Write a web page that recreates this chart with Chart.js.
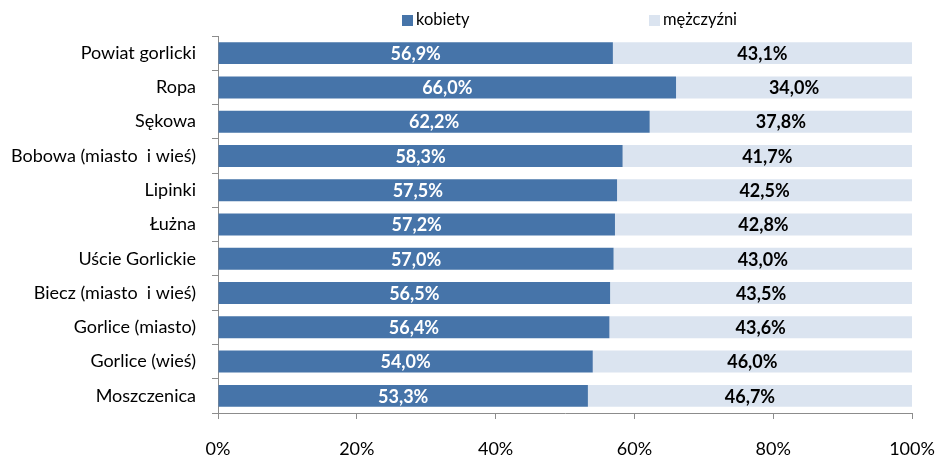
<!DOCTYPE html>
<html>
<head>
<meta charset="utf-8">
<script src="https://cdn.jsdelivr.net/npm/chart.js@4"></script>
<style>
  body { margin: 0; background: #fff; }
  canvas { display: block; }
</style>
</head>
<body>
<canvas id="chart" width="938" height="459"></canvas>
<script>
const categories = ["Powiat gorlicki", "Ropa", "Sękowa", "Bobowa (miasto  i wieś)", "Lipinki", "Łużna",
  "Uście Gorlickie", "Biecz (miasto  i wieś)", "Gorlice (miasto)", "Gorlice (wieś)", "Moszczenica"];
const kobiety = [56.9, 66.0, 62.2, 58.3, 57.5, 57.2, 57.0, 56.5, 56.4, 54.0, 53.3];
const mezczyzni = [43.1, 34.0, 37.8, 41.7, 42.5, 42.8, 43.0, 43.5, 43.6, 46.0, 46.7];
const xTicks = [0, 20, 40, 60, 80, 100];

const FONT = "Lato";
const DARK = "#4674A9";
const LIGHT = "#DBE4F0";
const AXIS = "#8C8C8C";

// value labels inside bars
const barLabels = {
  id: "barLabels",
  afterDatasetsDraw(chart) {
    const ctx = chart.ctx;
    ctx.save();
    ctx.font = "bold 18px " + FONT;
    ctx.textAlign = "center";
    ctx.textBaseline = "middle";
    chart.data.datasets.forEach((ds, i) => {
      chart.getDatasetMeta(i).data.forEach((bar, j) => {
        const x = (bar.x + bar.base) / 2;
        ctx.fillStyle = i === 0 ? "#ffffff" : "#000000";
        ctx.fillText(ds.data[j].toFixed(1).replace(".", ",") + "%", x, bar.y + 1);
      });
    });
    ctx.restore();
  }
};

// legend drawn like the Excel one
const topLegend = {
  id: "topLegend",
  afterDraw(chart) {
    const ctx = chart.ctx;
    const spots = [402, 649];
    ctx.save();
    ctx.font = "16.5px " + FONT;
    ctx.textBaseline = "middle";
    chart.data.datasets.forEach((ds, i) => {
      ctx.fillStyle = ds.backgroundColor;
      ctx.fillRect(spots[i], 15, 11, 11);
      ctx.fillStyle = "#000";
      ctx.fillText(ds.label, spots[i] + 14, 20);
    });
    ctx.restore();
  }
};

new Chart(document.getElementById("chart"), {
  type: "bar",
  data: {
    labels: categories,
    datasets: [
      { label: "kobiety", data: kobiety, backgroundColor: DARK },
      { label: "mężczyźni", data: mezczyzni, backgroundColor: LIGHT }
    ]
  },
  options: {
    indexAxis: "y",
    responsive: false,
    animation: false,
    devicePixelRatio: 1,
    layout: { padding: { top: 36, right: 26, left: 0, bottom: 0 } },
    datasets: { bar: { categoryPercentage: 1, barPercentage: 0.64 } },
    plugins: { legend: { display: false }, tooltip: { enabled: false } },
    scales: {
      x: {
        stacked: true,
        min: 0,
        max: 100,
        afterBuildTicks: s => { s.ticks = xTicks.map(v => ({ value: v })); },
        afterFit: s => { s.height = 46; s.paddingLeft = 0; s.paddingRight = 0; },
        ticks: {
          font: { family: FONT, size: 18 },
          color: "#000",
          padding: 19,
          callback: v => v + "%"
        },
        grid: { drawOnChartArea: false, drawTicks: true, tickLength: 6, color: AXIS },
        border: { color: AXIS }
      },
      y: {
        stacked: true,
        afterFit: s => { s.width = 218; s.paddingTop = 0; s.paddingBottom = 0; },
        ticks: { font: { family: FONT, size: 18 }, color: "#000", padding: 16 },
        grid: { drawOnChartArea: false, drawTicks: true, tickLength: 6, color: AXIS, offset: true },
        border: { color: AXIS }
      }
    }
  },
  plugins: [barLabels, topLegend]
});
</script>
</body>
</html>
